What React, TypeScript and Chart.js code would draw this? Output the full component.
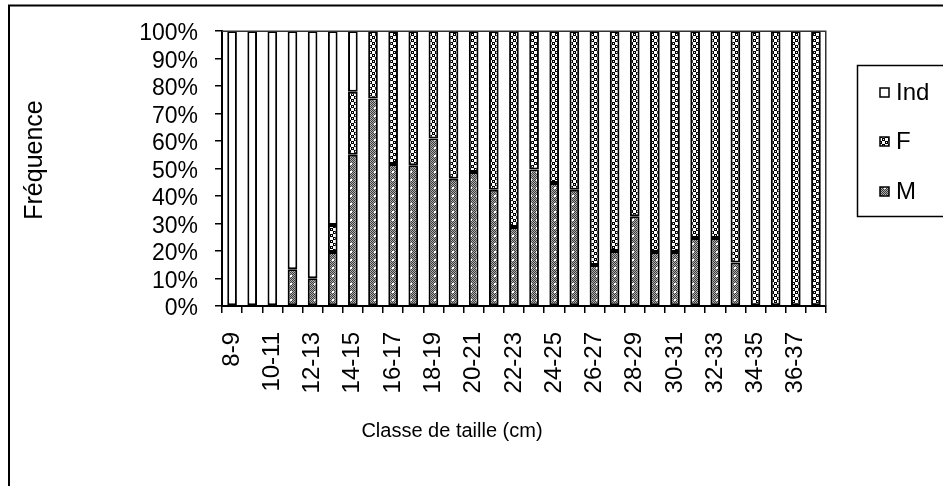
import React, { useEffect, useRef } from 'react';
import { Chart, registerables } from 'chart.js';

Chart.register(...registerables);

const categories = [
  '8-9', '9-10', '10-11', '11-12', '12-13', '13-14', '14-15', '15-16', '16-17', '17-18',
  '18-19', '19-20', '20-21', '21-22', '22-23', '23-24', '24-25', '25-26', '26-27', '27-28',
  '28-29', '29-30', '30-31', '31-32', '32-33', '33-34', '34-35', '35-36', '36-37', '37-38',
];

const mValues = [
  0, 0, 0, 13.4, 10.1, 19.6, 55, 75.5, 51.6, 51.2,
  60.9, 46.3, 48.7, 42.3, 28.7, 49.6, 44.7, 42.3, 14.9, 20,
  32.6, 19.6, 19.6, 24.7, 24.7, 15.8, 0, 0, 0, 0,
];

const fValues = [
  0, 0, 0, 0, 0, 9.9, 22.9, 24.5, 48.4, 48.8,
  39.1, 53.7, 51.3, 57.7, 71.3, 50.4, 55.3, 57.7, 85.1, 80,
  67.4, 80.4, 80.4, 75.3, 75.3, 84.2, 100, 100, 100, 100,
];

const indValues = [
  100, 100, 100, 86.6, 89.9, 70.5, 22.1, 0, 0, 0,
  0, 0, 0, 0, 0, 0, 0, 0, 0, 0,
  0, 0, 0, 0, 0, 0, 0, 0, 0, 0,
];

const seriesNames = ['M', 'F', 'Ind'];
const xAxisTitle = 'Classe de taille (cm)';
const yAxisTitle = 'Fréquence';

const FONT = "'Liberation Sans', Arial, sans-serif";

function makePattern(kind: string): CanvasPattern | string {
  const c = document.createElement('canvas');
  const ctx = c.getContext('2d');
  if (!ctx) return '#888';
  if (kind === 'M') {
    c.width = 6;
    c.height = 8;
    for (let y = 0; y < 8; y++) {
      for (let x = 0; x < 6; x++) {
        ctx.fillStyle = (x + y) % 2 === 0 ? '#3a3a3a' : '#b0b0b0';
        ctx.fillRect(x, y, 1, 1);
      }
    }
    ctx.fillStyle = '#ffffff';
    ctx.fillRect(2, 3, 2, 2);
  } else if (kind === 'F') {
    c.width = 6;
    c.height = 6;
    ctx.fillStyle = '#ffffff';
    ctx.fillRect(0, 0, 6, 6);
    ctx.fillStyle = '#000000';
    ctx.fillRect(0, 0, 3, 3);
    ctx.fillRect(3, 3, 3, 3);
    ctx.fillStyle = '#ffffff';
    ctx.fillRect(1, 1, 1, 1);
    ctx.fillRect(4, 4, 1, 1);
  } else {
    return '#ffffff';
  }
  return ctx.createPattern(c, 'repeat') || '#888';
}

export default function App() {
  const canvasRef = useRef<HTMLCanvasElement | null>(null);

  useEffect(() => {
    const canvas = canvasRef.current;
    if (!canvas) return;
    const fills = [makePattern('M'), makePattern('F'), makePattern('Ind')];
    const valueSets = [mValues, fValues, indValues];

    const decor = {
      id: 'decor',
      beforeDraw(chart: any) {
        const ctx = chart.ctx;
        ctx.save();
        ctx.fillStyle = '#ffffff';
        ctx.fillRect(0, 0, chart.width, chart.height);
        ctx.strokeStyle = '#000000';
        ctx.lineWidth = 2;
        ctx.strokeRect(9, 5.5, 1200, 1000);
        ctx.restore();
      },
      afterDraw(chart: any) {
        const ctx = chart.ctx;
        const a = chart.chartArea;
        ctx.save();
        ctx.strokeStyle = '#333333';
        ctx.lineWidth = 1.5;
        ctx.beginPath();
        ctx.moveTo(a.left, a.top + 0.25);
        ctx.lineTo(a.right - 0.25, a.top + 0.25);
        ctx.lineTo(a.right - 0.25, a.bottom);
        ctx.stroke();

        ctx.fillStyle = '#000000';
        ctx.textAlign = 'center';
        ctx.textBaseline = 'middle';
        ctx.font = `20px ${FONT}`;
        ctx.fillText(xAxisTitle, 452, 431);

        ctx.save();
        ctx.translate(35, 160);
        ctx.rotate(-Math.PI / 2);
        ctx.font = `25px ${FONT}`;
        ctx.fillText(yAxisTitle, 0, 0);
        ctx.restore();

        // legend
        ctx.lineWidth = 1.5;
        ctx.strokeStyle = '#000000';
        ctx.strokeRect(857.5, 65.5, 200, 151);
        const order = [2, 1, 0];
        const ys = [92, 141, 191];
        ctx.textAlign = 'left';
        ctx.font = `24px ${FONT}`;
        order.forEach((di, k) => {
          const y = ys[k];
          ctx.fillStyle = fills[di] as any;
          ctx.fillRect(880, y - 4, 9, 9);
          ctx.lineWidth = 1.5;
          ctx.strokeStyle = '#000000';
          ctx.strokeRect(880, y - 4, 9, 9);
          ctx.fillStyle = '#000000';
          ctx.fillText(seriesNames[di], 896, y + 1);
        });
        ctx.restore();
      },
    };

    const chart = new Chart(canvas, {
      type: 'bar',
      data: {
        labels: categories,
        datasets: seriesNames.map((name, i) => ({
          label: name,
          data: valueSets[i].map((v) => (v === 0 ? null : v)),
          backgroundColor: fills[i] as any,
          borderColor: '#000000',
          borderWidth: 2,
          borderSkipped: false,
          barPercentage: 0.48,
          categoryPercentage: 1,
        })),
      },
      options: {
        animation: false,
        responsive: false,
        devicePixelRatio: 1,
        layout: { padding: { top: 31, right: 117, bottom: 0, left: 0 } },
        plugins: {
          legend: { display: false },
          tooltip: { enabled: false },
        },
        scales: {
          x: {
            stacked: true,
            afterFit: (s: any) => {
              s.height = 180;
            },
            grid: {
              offset: true,
              drawOnChartArea: false,
              drawTicks: true,
              tickLength: 7,
              color: '#000000',
              lineWidth: 1.5,
            },
            border: { display: true, color: '#000000', width: 2 },
            ticks: {
              autoSkip: false,
              minRotation: 90,
              maxRotation: 90,
              padding: 19,
              color: '#000000',
              font: { family: FONT, size: 24 },
              callback: (_v: any, i: number) => (i % 2 === 0 ? categories[i] : ''),
            },
          },
          y: {
            stacked: true,
            min: 0,
            max: 100,
            afterFit: (s: any) => {
              s.width = 222;
            },
            grid: {
              drawOnChartArea: false,
              drawTicks: true,
              tickLength: 7,
              color: '#000000',
              lineWidth: 1.5,
            },
            border: { display: true, color: '#000000', width: 2 },
            ticks: {
              stepSize: 10,
              autoSkip: false,
              padding: 17,
              labelOffset: 3,
              color: '#000000',
              font: { family: FONT, size: 23 },
              callback: (v: any) => `${v}%`,
            },
          },
        },
      },
      plugins: [decor],
    });

    return () => {
      chart.destroy();
    };
  }, []);

  return (
    <div style={{ position: 'absolute', left: 0, top: 0, width: 943, height: 486, overflow: 'hidden', background: '#fff' }}>
      <canvas ref={canvasRef} width={943} height={486} style={{ width: 943, height: 486, display: 'block' }} />
    </div>
  );
}
